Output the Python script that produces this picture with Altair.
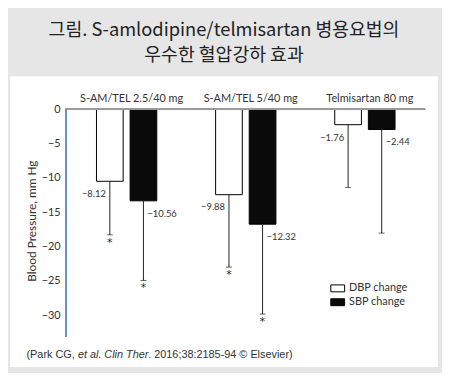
import altair as alt
import pandas as pd

# ---- data ----
groups = ["S-AM/TEL 2.5/40 mg", "S-AM/TEL 5/40 mg", "Telmisartan 80 mg"]
series = ["DBP change", "SBP change"]
dbp_bar = [-10.5, -12.45, -2.25]
sbp_bar = [-13.35, -16.75, -2.95]
dbp_err = [-18.3, -23.0, -11.4]
sbp_err = [-24.95, -29.85, -18.05]
dbp_label = ["−8.12", "−9.88", "−1.76"]
sbp_label = ["−10.56", "−12.32", "−2.44"]
dbp_star = [True, True, False]
sbp_star = [True, True, False]
y_ticks = [0, -5, -10, -15, -20, -25, -30]

title_lines = ["그림. S-amlodipine/telmisartan 병용요법의", "우수한 혈압강하 효과"]
footer_parts = ["(Park CG, ", "et al.", "Clin Ther", ". 2016;38:2185-94 © Elsevier)"]
footer_italic = [False, True, True, False]

rows = []
for i, g in enumerate(groups):
    rows.append(dict(group=g, series=series[0], bar=dbp_bar[i], err=dbp_err[i],
                     label=dbp_label[i], star=dbp_star[i]))
    rows.append(dict(group=g, series=series[1], bar=sbp_bar[i], err=sbp_err[i],
                     label=sbp_label[i], star=sbp_star[i]))
df = pd.DataFrame(rows)
gdf = pd.DataFrame({"group": groups})

FONT = "Lato"
TXT = "#333333"

xscale = alt.Scale(domain=groups, range=[57.75, 419.25], paddingInner=0, paddingOuter=0)
xoff = alt.Scale(domain=series, paddingInner=0.206, paddingOuter=0.875)
yscale = alt.Scale(domain=[-37.56, 4.80], nice=False, zero=False)

X = alt.X("group:N", scale=xscale, axis=None, sort=groups)
XO = alt.XOffset("series:N", scale=xoff, sort=series)

yaxis = alt.Axis(values=y_ticks, domain=False, ticks=False, grid=False, offset=-56.7,
                 labelPadding=6, labelFont=FONT, labelFontSize=11, labelColor=TXT,
                 title="Blood Pressure, mm Hg", titleFont=FONT, titleFontSize=12,
                 titleFontWeight="normal", titleColor=TXT, titleAngle=270,
                 titleAlign="center", titleBaseline="middle", titleX=-34.7, titleY=146)

base = alt.Chart(df)

bars = base.mark_bar(stroke="black", strokeWidth=1).encode(
    x=X, xOffset=XO,
    y=alt.Y("bar:Q", scale=yscale, axis=yaxis),
    y2=alt.datum(0),
    fill=alt.Fill("series:N", sort=series,
                  scale=alt.Scale(domain=series, range=["white", "#0a0a0a"]),
                  legend=alt.Legend(title=None, orient="none", legendX=324, legendY=207,
                                    symbolType="M-1,-0.5H1V0.5H-1Z", symbolSize=196,
                                    symbolStrokeColor="black", symbolStrokeWidth=1,
                                    labelFont=FONT, labelFontSize=11, labelColor=TXT,
                                    labelOffset=4, rowPadding=1)),
)

err = base.mark_rule(color="#222222", strokeWidth=1).encode(
    x=X, xOffset=XO, y="bar:Q", y2="err:Q")
caps = base.mark_tick(orient="horizontal", size=6, thickness=1, color="#222222").encode(
    x=X, xOffset=XO, y="err:Q")
stars = base.transform_filter("datum.star").mark_text(
    text="*", fontSize=11, baseline="top", dy=2, color="#222222", font="DejaVu Sans").encode(
    x=X, xOffset=XO, y="err:Q")

lab_d = base.transform_filter(alt.datum.series == series[0]).mark_text(
    align="right", baseline="middle", dx=-4, dy=13, fontSize=9.5, font=FONT, color=TXT).encode(
    x=X, xOffset=XO, y="bar:Q", text="label:N")
lab_s = base.transform_filter(alt.datum.series == series[1]).mark_text(
    align="left", baseline="middle", dx=4, dy=13, fontSize=9.5, font=FONT, color=TXT).encode(
    x=X, xOffset=XO, y="bar:Q", text="label:N")

glabels = alt.Chart(gdf).mark_text(fontSize=11, font=FONT, color=TXT, dx=5,
                                   baseline="middle").encode(
    x=X, y=alt.value(23), text="group:N")

zero_line = base.mark_rule(color="#9a9a9a", strokeWidth=1.5).encode(
    x=alt.value(56), x2=alt.value(420), y=alt.datum(0))
y_line = base.mark_rule(color="#6f8fbf", strokeWidth=1.2).encode(
    x=alt.value(56.7), y=alt.datum(0), y2=alt.datum(-33.2))

footer_x = [16.7, 68.7, 95.4, 139.8]
footer = []
for i in range(len(footer_parts)):
    footer.append(alt.Chart(pd.DataFrame({"t": [footer_parts[i]]})).mark_text(
        align="left", baseline="middle", fontSize=11, font="Liberation Sans",
        fontStyle="italic" if footer_italic[i] else "normal", color=TXT).encode(
        x=alt.value(footer_x[i]), y=alt.value(282.3), text="t:N"))

chart = alt.layer(bars, zero_line, y_line, err, caps, stars, lab_d, lab_s, glabels, *footer).properties(
    width=433, height=294,
    autosize=alt.AutoSizeParams(type="none"),
    padding={"left": 2, "top": 67, "right": 4, "bottom": 4},
    background="#e6e6e6",
    title=alt.TitleParams(text=title_lines, fontSize=18.5, font="Noto Sans CJK KR",
                          fontWeight="normal", color="#222222", anchor="middle",
                          offset=12, lineHeight=25),
).configure_view(fill="white", strokeWidth=0)

chart.save("out.html", embed_options={"renderer": "svg", "actions": False})
